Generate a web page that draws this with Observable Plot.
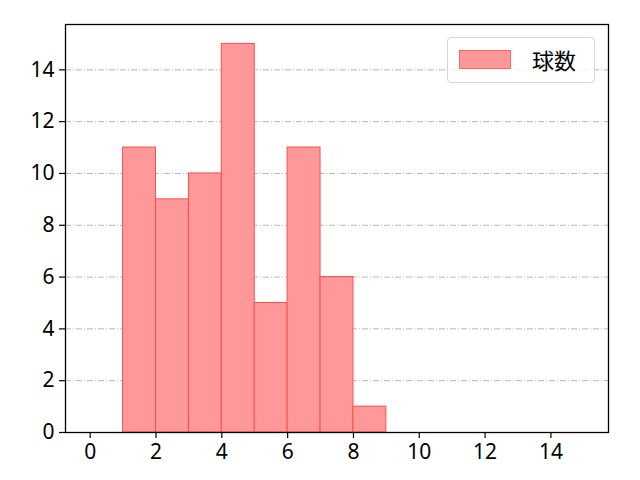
<!DOCTYPE html>
<html>
<head>
<meta charset="utf-8">
<script src="https://cdn.jsdelivr.net/npm/d3@7"></script>
<script src="https://cdn.jsdelivr.net/npm/@observablehq/plot@0.6"></script>
<style>
  html, body { margin: 0; padding: 0; background: #fff; }
  #wrap { position: relative; width: 640px; height: 480px; font-family: "Noto Sans CJK JP", "Noto Sans", sans-serif; }
  #legend { position: absolute; left: 447px; top: 37px; width: 148px; height: 46px; border: 1px solid #d5d5d5; border-radius: 4px; background: rgba(255,255,255,0.8); box-sizing: border-box; }
  #legend .sw { position: absolute; left: 11px; top: 12px; width: 52px; height: 19px; background: #ff9999; border: 1px solid #ff6666; box-sizing: border-box; }
  #legend .lb { position: absolute; left: 84px; top: 6px; font-size: 22px; line-height: 30px; color: #000; }
</style>
</head>
<body>
<div id="wrap">
  <div id="chart"></div>
  <div id="legend"><div class="sw"></div><div class="lb">球数</div></div>
</div>
<script>
const binStart = [1, 2, 3, 4, 5, 6, 7, 8];
const binEnd   = [2, 3, 4, 5, 6, 7, 8, 9];
const counts   = [11, 9, 10, 15, 5, 11, 6, 1];
const xTicks = [0, 2, 4, 6, 8, 10, 12, 14];
const yTicks = [0, 2, 4, 6, 8, 10, 12, 14];
const seriesName = "球数";

const data = binStart.map((s, i) => ({x1: s, x2: binEnd[i], y: counts[i]}));

const chart = Plot.plot({
  width: 640,
  height: 480,
  marginLeft: 65,
  marginRight: 32,
  marginTop: 24,
  marginBottom: 48,
  style: {fontFamily: '"Noto Sans", "Noto Sans CJK JP", sans-serif', fontSize: "21px", color: "#000", background: "#fff"},
  x: {domain: [-0.75, 15.75]},
  y: {domain: [0, 15.75]},
  marks: [
    Plot.ruleY(yTicks.filter(d => d > 0), {stroke: "#b0b0b0", strokeWidth: 0.9, strokeDasharray: "6,2,1,2"}),
    Plot.rectY(data, {x1: "x1", x2: "x2", y: "y", fill: "#ff9999", stroke: "#ff4d4d", strokeWidth: 1, insetLeft: 0, insetRight: 0}),
    Plot.axisX({ticks: xTicks, tickSize: 6, tickPadding: 6, label: null, fontSize: 21, tickFormat: d => String(d), stroke: "#000", strokeWidth: 1.2}),
    Plot.axisY({ticks: yTicks, tickSize: 6, tickPadding: 5, label: null, fontSize: 21, tickFormat: d => String(d), stroke: "#000", strokeWidth: 1.2}),
    Plot.frame({stroke: "#000", strokeWidth: 1.3})
  ]
});
document.getElementById("chart").appendChild(chart);
</script>
</body>
</html>
